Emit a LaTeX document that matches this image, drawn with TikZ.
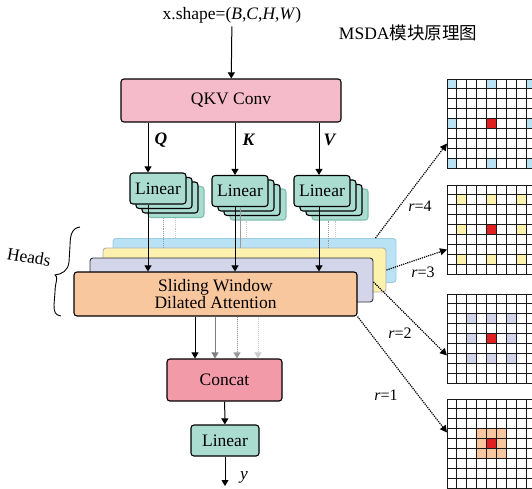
\documentclass[tikz,border=0pt]{standalone}
\usepackage{fontspec}
\setmainfont{Liberation Serif}
\newfontfamily\cjk{Noto Sans CJK SC}
\usetikzlibrary{arrows.meta}

\definecolor{qkvfill}{HTML}{F6BBCB}
\definecolor{linfill}{HTML}{AADDD0}
\definecolor{linedge}{HTML}{7FBFB0}
\definecolor{bluefill}{HTML}{B9E2F5}
\definecolor{blueedge}{HTML}{9CCBE2}
\definecolor{yellowfill}{HTML}{FDF1AE}
\definecolor{purplefill}{HTML}{D3D5EA}
\definecolor{orangefill}{HTML}{F9C79E}
\definecolor{concatfill}{HTML}{F39AA8}
\definecolor{centerred}{HTML}{E02020}

\begin{document}
\begin{tikzpicture}[x=1pt,y=-1pt,
  font=\fontsize{17.5}{20}\selectfont,
  box/.style={draw=black, line width=1.1pt, rounded corners=3pt, inner sep=0pt},
  linbox/.style={box, fill=linfill, minimum width=56pt, minimum height=31pt},
  layer/.style={rounded corners=3pt, line width=0.9pt, minimum width=283pt, minimum height=44pt, inner sep=0pt, align=center},
  gridbox/.style={minimum size=89pt, inner sep=0pt, outer sep=0pt},
  gridline/.style={draw=black!90, line width=1pt},
  arr/.style={-{Triangle[length=6pt,width=7pt]}, line width=1pt},
  darr/.style={-{Triangle[length=7pt,width=7pt]}, densely dotted, line width=1.2pt},
  rlabel/.style={font=\fontsize{16}{18}\selectfont}
]
\useasboundingbox (0,0) rectangle (532,488);

% x positions of the vertical connectors
\foreach \nm/\x in {qx/148,kx/235,vx/319,d1/163,d2/175,d3/240,d4/246,d5/328,d6/335,c1/195,c2/215,c3/237,c4/258}
  \coordinate (\nm) at (\x,0);

\node (shape) at (232,15) {x.shape=(\textit{B},\textit{C},\textit{H},\textit{W})};
\node (title) at (408,33) {MSDA{\cjk 模块原理图}};

\node[box, fill=qkvfill, minimum width=220pt, minimum height=43pt] (qkv) at (231,100.5) {QKV Conv};
\draw[arr] (shape) -- (qkv);

% stacked Linear heads
\foreach \i/\cx/\cy in {1/158/188.5, 2/240/191, 3/322/191} {
  \node[linbox, draw=linedge] (lin\i c) at ({\cx+18},{\cy+13.5}) {};
  \node[linbox] (lin\i b) at ({\cx+12},{\cy+9}) {};
  \node[linbox] (lin\i a) at ({\cx+6},{\cy+4.5}) {};
  \node[linbox] (lin\i) at (\cx,\cy) {Linear};
}

\draw[arr] (qkv.south -| qx) -- (lin1.north -| qx);
\draw[arr] (qkv.south -| kx) -- (lin2.north -| kx);
\draw[arr] (qkv.south -| vx) -- (lin3.north -| vx);
\node (qlab) at (161,140) {\textbf{\textit{Q}}};
\node (klab) at (249,140) {\textbf{\textit{K}}};
\node (vlab) at (330,140) {\textbf{\textit{V}}};

% heads
\node[layer, draw=blueedge, fill=bluefill] (blue) at (254.5,260.5) {};
\draw[densely dotted, gray!45, line width=0.9pt] (lin1c.south -| d2) -- (blue.north -| d2);
\draw[densely dotted, gray!45, line width=0.9pt] (lin2c.south -| d4) -- (blue.north -| d4);
\draw[densely dotted, gray!45, line width=0.9pt] (lin3c.south -| d6) -- (blue.north -| d6);
\node[layer, draw=gray!60, fill=yellowfill] (yellow) at (244.5,270) {};
\draw[densely dotted, gray!80, line width=0.9pt] (lin1c.south -| d1) -- (yellow.north -| d1);
\draw[gray!80, line width=0.9pt] (lin2.south -| d3) -- (yellow.north -| d3);
\draw[densely dotted, gray!80, line width=0.9pt] (lin3c.south -| d5) -- (yellow.north -| d5);
\node[layer, draw=black!80, fill=purplefill] (purple) at (231.5,280) {};
\node[layer, box, fill=orangefill] (orange) at (215.5,294) {Sliding Window\\[-3pt]Dilated Attention};

\draw[arr] (lin1.south -| qx) -- (orange.north -| qx);
\draw[arr] (lin2.south -| kx) -- (orange.north -| kx);
\draw[arr] (lin3.south -| vx) -- (orange.north -| vx);

% Heads brace
\draw[line width=0.9pt] (80,227) .. controls (72,228) and (70,235) .. (70,246)
  -- (69,262) .. controls (68,271) and (62,274) .. (55,275)
  .. controls (59,277) and (55,282) .. (55,292)
  -- (54,305) .. controls (54,312) and (55,315) .. (61,316);
\node[rotate=-10, inner sep=1pt] (heads) at (29,257) {Heads};

% concat and output
\node[box, fill=concatfill, minimum width=115pt, minimum height=42pt] (concat) at (224.5,380) {Concat};
\draw[arr] (orange.south -| c1) -- (concat.north -| c1);
\draw[arr, draw=gray, fill=gray] (orange.south -| c2) -- (concat.north -| c2);
\draw[arr, densely dotted, draw=gray!80, fill=gray!80] (orange.south -| c3) -- (concat.north -| c3);
\draw[arr, densely dotted, draw=gray!40, fill=gray!40] (orange.south -| c4) -- (concat.north -| c4);

\node[linbox, minimum width=68pt] (linout) at (225,440.5) {Linear};
\coordinate (yout) at (225,486);
\draw[arr] (concat) -- (linout);
\draw[arr] (linout) -- (yout);
\node (ylab) at (244,477) {\textit{y}};

% dilation grids
\foreach \g/\top/\col/\lst in {g4/79/bluefill/{1,5,9}, g3/185/yellowfill/{2,5,8}, g2/294/purplefill/{3,5,7}, g1/399/orangefill/{4,5,6}} {
  \node[gridbox] (\g) at (491.5,{\top+44.5}) {};
  \foreach \r in \lst
    \foreach \c in \lst
      \fill[\col] ({447+(\c-1)*9.9},{\top+(\r-1)*9.9}) rectangle ++(9.9,9.9);
  \fill[centerred] ({447+4*9.9},{\top+4*9.9}) rectangle ++(9.9,9.9);
  \foreach \k in {0,...,9} {
    \draw[gridline] ({447+\k*9.9},\top) -- ++(0,89.1);
    \draw[gridline] (447,{\top+\k*9.9}) -- ++(89.1,0);
  }
}

\draw[darr] ([xshift=-21pt]blue.north east) -- ([yshift=-20pt]g4.west);
\draw[darr] (yellow.east) -- ([yshift=-20pt]g3.west);
\draw[darr] ([yshift=-2pt]purple.east) -- ([yshift=-17pt]g2.west);
\draw[darr] (orange.south east) -- ([yshift=11pt]g1.west);
\node[rlabel] (r4) at (420,206) {\textit{r}=4};
\node[rlabel] (r3) at (423,272) {\textit{r}=3};
\node[rlabel] (r2) at (400,333) {\textit{r}=2};
\node[rlabel] (r1) at (386,395) {\textit{r}=1};
\end{tikzpicture}
\end{document}
